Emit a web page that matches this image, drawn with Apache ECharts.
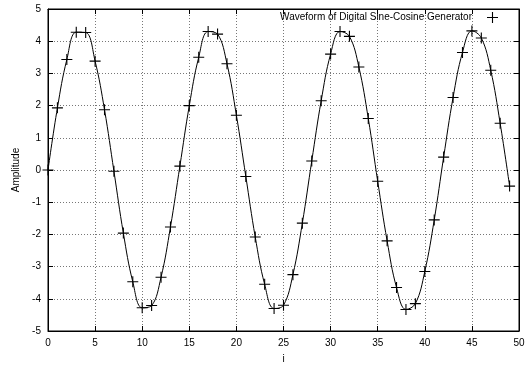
<!DOCTYPE html>
<html>
<head>
<meta charset="utf-8">
<script src="https://cdn.jsdelivr.net/npm/echarts@6/dist/echarts.min.js"></script>
<style>
  html, body { margin: 0; padding: 0; background: #fff; }
  #chart { width: 529px; height: 369px; }
</style>
</head>
<body>
<div id="chart"></div>
<script>
// samples, i = 0..49
const amplitude = [
  0, 1.93, 3.43, 4.28, 4.27, 3.38, 1.87, -0.04, -1.96, -3.47,
  -4.28, -4.21, -3.33, -1.77, 0.12, 2.0, 3.5, 4.3, 4.22, 3.3,
  1.7, -0.2, -2.08, -3.55, -4.3, -4.2, -3.25, -1.65, 0.28, 2.15,
  3.6, 4.3, 4.15, 3.2, 1.6, -0.35, -2.2, -3.65, -4.33, -4.15,
  -3.15, -1.55, 0.4, 2.25, 3.65, 4.32, 4.1, 3.1, 1.45, -0.5
];
const xTicks = [0, 5, 10, 15, 20, 25, 30, 35, 40, 45, 50];
const yTicks = [-5, -4, -3, -2, -1, 0, 1, 2, 3, 4, 5];
const seriesName = 'Waveform of Digital Sine-Cosine Generator';

const plus = 'path://M0,4.5h10v1h-10zM4.5,0h1v10h-1z';
const font = 'Liberation Sans, Arial, sans-serif';

const chart = echarts.init(document.getElementById('chart'));

const tick = { show: true, inside: true, length: 5, lineStyle: { color: '#000' } };
const split = { show: true, lineStyle: { color: '#777', type: [1, 2], width: 1 } };

chart.setOption({
  animation: false,
  textStyle: { fontFamily: font },
  grid: {
    left: 48, right: 10, top: 9, bottom: 34,
    show: true, borderColor: '#000', borderWidth: 1
  },
  legend: {
    right: 26, top: 7,
    align: 'right',
    icon: plus,
    itemWidth: 11, itemHeight: 11,
    textStyle: { fontSize: 10, color: '#000', fontFamily: font, padding: [0, 10, 0, 0] },
    data: [seriesName]
  },
  xAxis: [{
    type: 'value',
    min: xTicks[0], max: xTicks[xTicks.length - 1], interval: 5,
    name: 'i', nameLocation: 'middle', nameGap: 23,
    nameTextStyle: { fontSize: 10, color: '#000' },
    axisLine: { show: true, onZero: false, lineStyle: { color: '#000' } },
    axisTick: tick,
    axisLabel: { fontSize: 10, color: '#000', margin: 7 },
    splitLine: split
  }, {
    type: 'value', position: 'top',
    min: xTicks[0], max: xTicks[xTicks.length - 1], interval: 5,
    axisLine: { show: true, onZero: false, lineStyle: { color: '#000' } },
    axisTick: tick, axisLabel: { show: false }, splitLine: { show: false }
  }],
  yAxis: [{
    type: 'value',
    min: yTicks[0], max: yTicks[yTicks.length - 1], interval: 1,
    name: 'Amplitude', nameLocation: 'middle', nameGap: 27,
    nameTextStyle: { fontSize: 10, color: '#000' },
    axisLine: { show: true, onZero: false, lineStyle: { color: '#000' } },
    axisTick: tick,
    axisLabel: { fontSize: 10, color: '#000', margin: 7 },
    splitLine: split
  }, {
    type: 'value', position: 'right',
    min: yTicks[0], max: yTicks[yTicks.length - 1], interval: 1,
    axisLine: { show: true, onZero: false, lineStyle: { color: '#000' } },
    axisTick: tick, axisLabel: { show: false }, splitLine: { show: false }
  }],
  series: [{
    name: seriesName,
    type: 'line',
    data: amplitude.map((v, i) => [i, v]),
    smooth: 0.4,
    symbol: plus,
    symbolSize: 11,
    showAllSymbol: true,
    itemStyle: { color: '#000' },
    lineStyle: { color: '#000', width: 1 }
  }]
});
</script>
</body>
</html>
